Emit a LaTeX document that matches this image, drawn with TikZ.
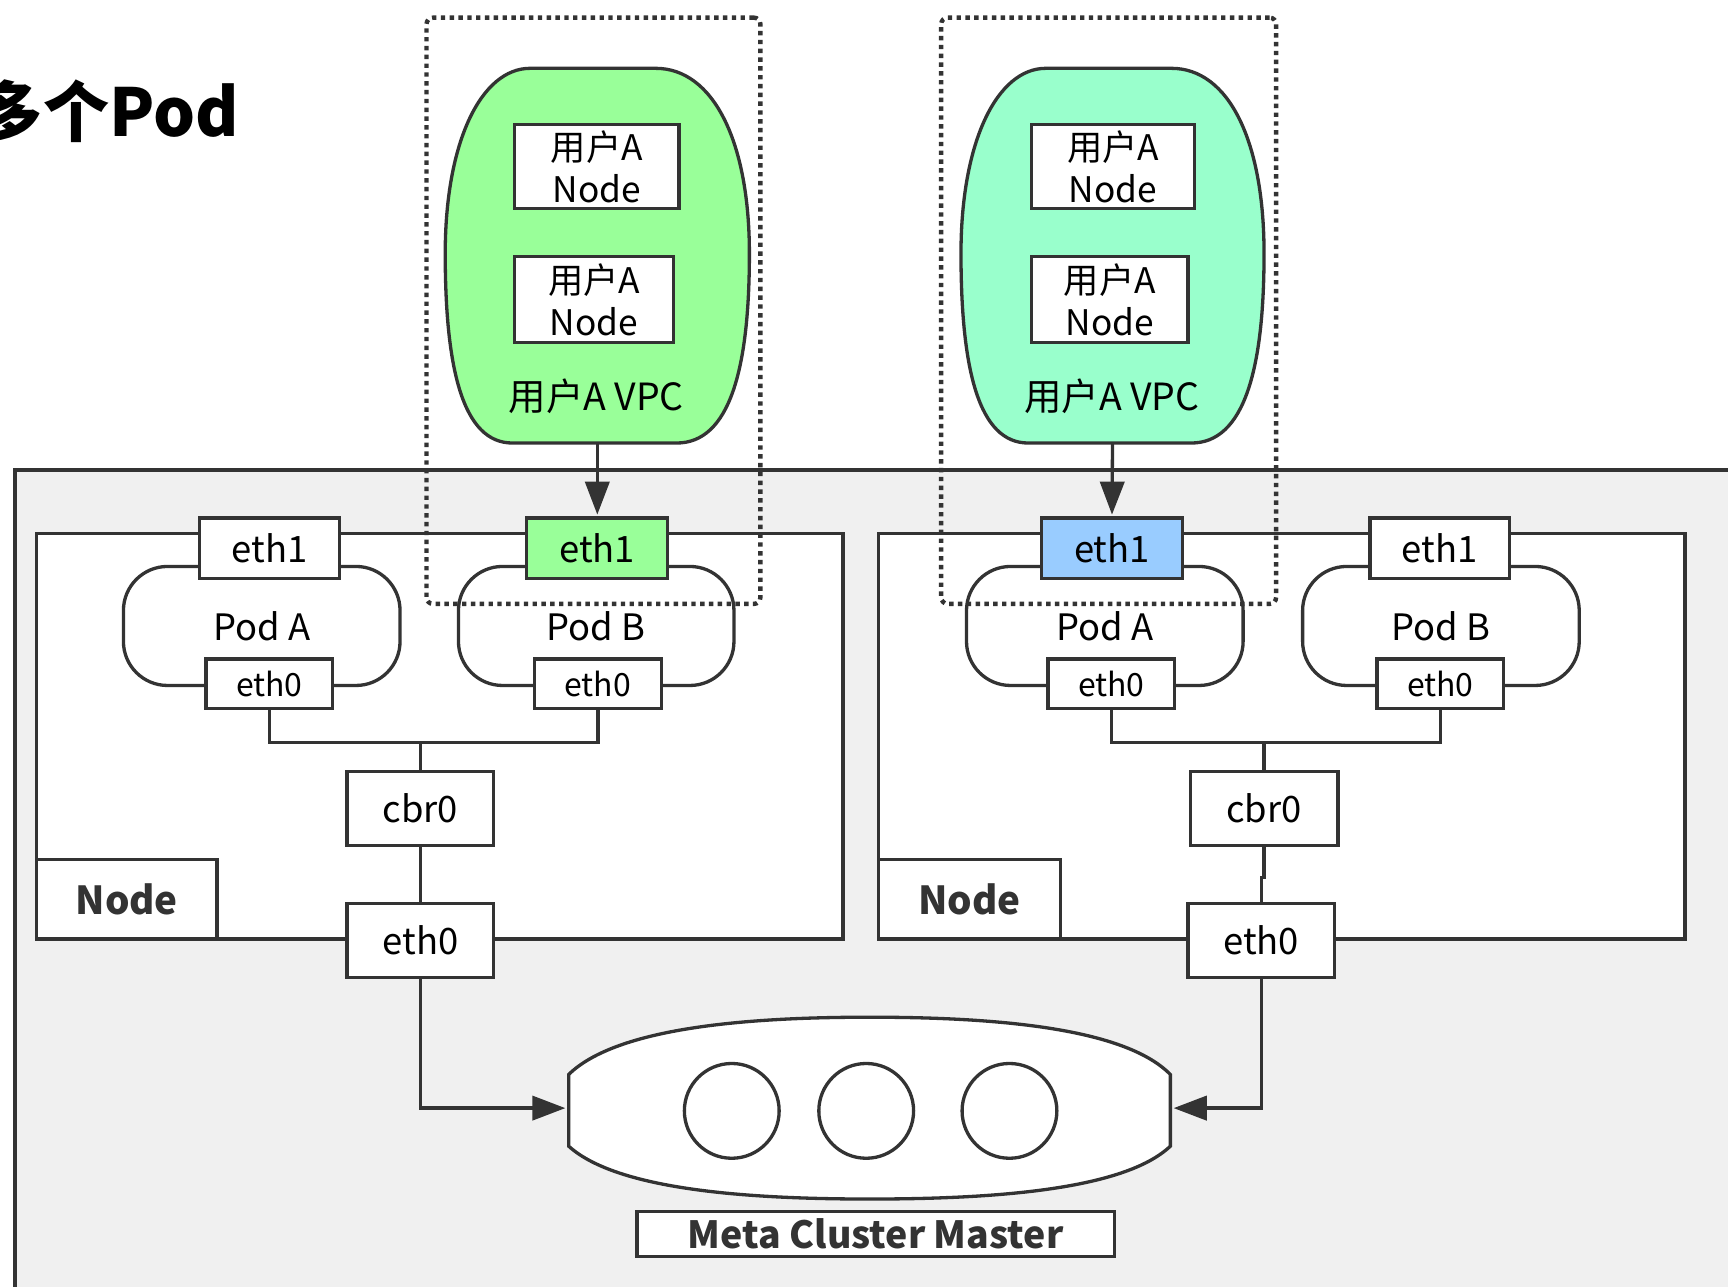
\documentclass[tikz,border=0pt]{standalone}
\usepackage{fontspec}
\setmainfont{Noto Sans CJK SC}
\usetikzlibrary{arrows.meta,calc}
\definecolor{edge}{HTML}{333333}
\definecolor{vpcgreen}{HTML}{99FF99}
\definecolor{vpcmint}{HTML}{99FFCC}
\definecolor{ethblue}{HTML}{99CCFF}
\definecolor{panelgray}{HTML}{F0F0F0}
\newcommand{\fsz}[1]{\fontsize{#1}{#1}\selectfont}

\begin{document}
\begin{tikzpicture}[x=1pt,y=-1pt,
  line width=3pt,
  box/.style={draw=edge, fill=white, inner sep=0pt, outer sep=0pt,
    font=\fsz{33}},
  podshape/.style={box, rounded corners=40pt},
  smallbox/.style={box, font=\fsz{29}},
  vpcbox/.style={box, align=center, font=\fontsize{32}{38}\selectfont},
  boldlabel/.style={box, text=edge, font=\fsz{35}\bfseries},
  grpframe/.style={draw=edge, line width=4pt, dash pattern=on 4pt off 4pt,
    rounded corners=6pt, inner sep=0pt, outer sep=0pt},
  outline/.style={draw=edge, line width=3pt},
  link/.style={draw=edge, line width=3pt},
  flow/.style={link, -{Triangle[length=30pt,width=22pt]}, shorten >=3pt},
  hidden/.style={inner sep=0pt, outer sep=0pt}
]
\useasboundingbox (0,0) rectangle (1568,1167);

% title
\node[anchor=base east, inner sep=0pt, font=\fsz{60}\bfseries] (title) at (218,124) {多个Pod};

% outer grey cluster panel (runs past the right and bottom edges)
\node[draw=edge, fill=panelgray, anchor=north west, inner sep=0pt,
  minimum width=1600pt, minimum height=800pt] (cluster) at (12,425) {};

% the two worker nodes
\node[box, anchor=north west, minimum width=732pt, minimum height=368pt] (nodeL) at (33,484) {};
\node[box, anchor=north west, minimum width=732pt, minimum height=368pt] (nodeR) at (797,484) {};
\node[boldlabel, minimum width=164pt, minimum height=72pt] (nodeLlbl) at (115,816) {Node};
\node[boldlabel, minimum width=165pt, minimum height=72pt] (nodeRlbl) at (879.5,816) {Node};

% pods
\node[podshape, minimum width=251pt, minimum height=108pt] (lpodA) at (237.5,568) {Pod A};
\node[podshape, minimum width=250pt, minimum height=108pt] (lpodB) at (541,568) {Pod B};
\node[podshape, minimum width=251pt, minimum height=108pt] (rpodA) at (1002.5,568) {Pod A};
\node[podshape, minimum width=251pt, minimum height=108pt] (rpodB) at (1307.5,568) {Pod B};

% pod-side eth1 interfaces
\node[box, minimum width=127pt, minimum height=55pt] (leth1A) at (244.5,497.5) {eth1};
\node[box, fill=vpcgreen, minimum width=128pt, minimum height=55pt] (leth1B) at (542,497.5) {eth1};
\node[box, fill=ethblue, minimum width=128pt, minimum height=55pt] (reth1A) at (1009,497.5) {eth1};
\node[box, minimum width=127pt, minimum height=55pt] (reth1B) at (1306.5,497.5) {eth1};

% pod-side eth0 interfaces
\node[smallbox, minimum width=115pt, minimum height=45pt] (lpe0A) at (244.5,620.5) {eth0};
\node[smallbox, minimum width=115pt, minimum height=45pt] (lpe0B) at (542.5,620.5) {eth0};
\node[smallbox, minimum width=115pt, minimum height=45pt] (rpe0A) at (1008.5,620.5) {eth0};
\node[smallbox, minimum width=115pt, minimum height=45pt] (rpe0B) at (1307,620.5) {eth0};

% bridges and host interfaces
\node[box, minimum width=133pt, minimum height=67pt] (lcbr) at (381.5,733.5) {cbr0};
\node[box, minimum width=134pt, minimum height=67pt] (rcbr) at (1147,733.5) {cbr0};
\node[box, minimum width=133pt, minimum height=67pt] (leth0) at (381.5,853.5) {eth0};
\node[box, minimum width=133pt, minimum height=67pt] (reth0) at (1144.5,853.5) {eth0};

% wiring inside the nodes
\coordinate (ljoin) at (381.5,674);
\coordinate (rjoin) at (1147,674);
\draw[link] (lpe0A.south) |- (ljoin) -| (lpe0B.south);
\draw[link] (rpe0A.south) |- (rjoin) -| (rpe0B.south);
\draw[link] (ljoin) -- (lcbr.north);
\draw[link] (rjoin) -- (rcbr.north);
\draw[link] (lcbr.south) -- (leth0.north);
\draw[link] (rcbr.south) |- ($(rcbr.south)!0.55!(reth0.north)$) -| (reth0.north);

% meta cluster master
\node[hidden, minimum width=546pt, minimum height=165pt] (meta) at (789,1005.5) {};
\draw[outline, fill=white]
  (516,975) .. controls (560,932) and (680,923) .. (789,923)
            .. controls (900,923) and (1020,932) .. (1062,975)
  -- (1062,1040)
            .. controls (1020,1080) and (900,1088) .. (789,1088)
            .. controls (680,1088) and (560,1080) .. (516,1040)
  -- cycle;
\node[draw=edge, circle, minimum size=86pt, inner sep=0pt] (m1) at (664,1008) {};
\node[draw=edge, circle, minimum size=86pt, inner sep=0pt] (m2) at (786,1008) {};
\node[draw=edge, circle, minimum size=86pt, inner sep=0pt] (m3) at (916,1008) {};
\node[box, text=edge, font=\fsz{34}\bfseries, minimum width=433pt, minimum height=41pt] (metalbl) at (794.5,1119.5) {Meta Cluster Master};

\draw[flow] (leth0.south) |- (meta.west);
\draw[flow] (reth0.south) |- (meta.east);

% user VPCs
\node[hidden, minimum width=276pt, minimum height=340pt] (vpcL) at (542,232) {};
\node[hidden, minimum width=275pt, minimum height=340pt] (vpcR) at (1009.5,232) {};
\draw[outline, fill=vpcgreen]
  (481,62) -- (595,62)
  .. controls (647,62) and (680,128) .. (680,230)
  .. controls (680,335) and (662,402) .. (614,402)
  -- (465,402)
  .. controls (420,402) and (404,335) .. (404,230)
  .. controls (404,128) and (437,62) .. (481,62) -- cycle;
\draw[outline, fill=vpcmint]
  (949,62) -- (1063,62)
  .. controls (1115,62) and (1147,128) .. (1147,230)
  .. controls (1147,335) and (1129,402) .. (1081,402)
  -- (933,402)
  .. controls (888,402) and (872,335) .. (872,230)
  .. controls (872,128) and (905,62) .. (949,62) -- cycle;

\node[vpcbox, minimum width=149pt, minimum height=76pt] (lvn1) at (541.5,151) {用户A\\Node};
\node[vpcbox, minimum width=144pt, minimum height=78pt] (lvn2) at (539,272) {用户A\\Node};
\node[vpcbox, minimum width=148pt, minimum height=76pt] (rvn1) at (1010,151) {用户A\\Node};
\node[vpcbox, minimum width=142pt, minimum height=78pt] (rvn2) at (1007,272) {用户A\\Node};
\node[hidden, font=\fsz{34}] (lvpclbl) at (541,360) {用户A VPC};
\node[hidden, font=\fsz{34}] (rvpclbl) at (1009,360) {用户A VPC};

\draw[flow] (vpcL.south) -- (leth1B.north);
\draw[flow] (vpcR.south) -- (reth1A.north);

% dotted groupings of VPC and its interface
\node[grpframe, anchor=north west, minimum width=303pt, minimum height=532pt] (grpL) at (387,16) {};
\node[grpframe, anchor=north west, minimum width=304pt, minimum height=532pt] (grpR) at (854,16) {};
\end{tikzpicture}
\end{document}
